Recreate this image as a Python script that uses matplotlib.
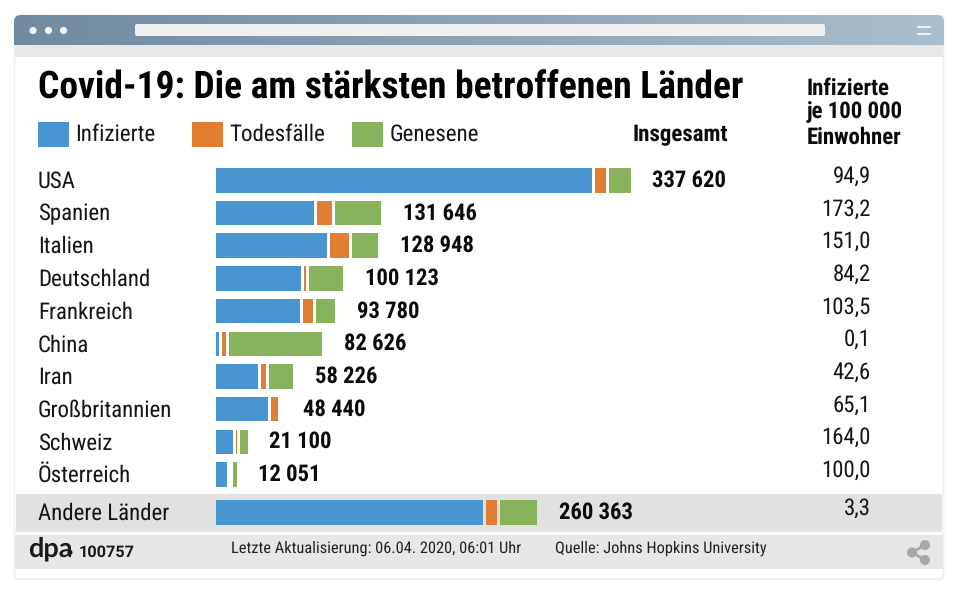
import matplotlib
matplotlib.use('Agg')
import matplotlib.pyplot as plt
import numpy as np
from matplotlib.colors import LinearSegmentedColormap
from matplotlib.patches import Circle, FancyBboxPatch, Rectangle

plt.rcParams['text.hinting'] = 'no_hinting'

countries = ['USA', 'Spanien', 'Italien', 'Deutschland', 'Frankreich', 'China', 'Iran',
             'Großbritannien', 'Schweiz', 'Österreich', 'Andere Länder']
active = [310400, 81000, 92000, 69840, 69400, 2600, 35000, 43280, 13700, 8850, 220700]
deaths = [9640, 12640, 15800, 2000, 8100, 3300, 3800, 5500, 1100, 200, 9100]
recovered = [17580, 38000, 21200, 28300, 16280, 76930, 19740, 0, 6300, 3000, 30560]
totals = ['337 620', '131 646', '128 948', '100 123', '93 780', '82 626', '58 226',
          '48 440', '21 100', '12 051', '260 363']
per_100k = ['94,9', '173,2', '151,0', '84,2', '103,5', '0,1', '42,6', '65,1', '164,0', '100,0', '3,3']

BLUE = '#4895d0'
ORANGE = '#e07f33'
GREEN = '#89b25c'
NARROW = 'Roboto Condensed'
DARK = '#151515'
BLACK = '#0a0a0a'

fig = plt.figure(figsize=(9.6, 5.91), dpi=100)
bg = fig.add_axes([0, 0, 1, 1])
bg.axis('off')

# browser window
bg.add_patch(FancyBboxPatch((14.5, 15.5), 929, 563.5, boxstyle='round,pad=0,rounding_size=3',
                            fc='white', ec='#efefef', lw=1.2, zorder=1))
title_clip = FancyBboxPatch((14, 15), 930, 40, boxstyle='round,pad=0,rounding_size=7',
                            fc='none', ec='none')
bg.add_patch(title_clip)
cmap = LinearSegmentedColormap.from_list('titlebar', ['#718aa0', '#abbecd'])
grad = bg.imshow(np.linspace(0, 1, 256).reshape(1, -1), extent=(14, 944, 45, 15), aspect='auto',
                 cmap=cmap, zorder=2)
grad.set_clip_path(title_clip)
bg.set_xlim(0, 960)
bg.set_ylim(591, 0)
bg.add_patch(Rectangle((15, 45), 928, 12, fc='#e8e8e8', ec='none', zorder=2))
bg.add_patch(FancyBboxPatch((135, 24), 690, 12, boxstyle='round,pad=0,rounding_size=2',
                            fc='#f0f0f0', ec='none', zorder=3))
for cx in (33, 48.5, 63.5):
    bg.add_patch(Circle((cx, 30.5), 3.6, fc='#f4f4f4', ec='none', zorder=3))
for ly in (27, 34):
    bg.plot([917, 931], [ly, ly], color='#e8eef2', lw=1.5, solid_capstyle='butt', zorder=3)

# grey rows
bg.add_patch(Rectangle((16, 493.5), 926, 38.5, fc='#e1e1e1', ec='none', zorder=2))
bg.add_patch(Rectangle((15, 535), 928, 33.5, fc='#e7e7e7', ec='none', zorder=2))

# share icon
for p, q in (((925, 545), (912, 552.5)), ((912, 552.5), (925, 560))):
    bg.plot(*zip(p, q), color='#a8a8a8', lw=2, zorder=3)
for c in ((925, 545), (912, 552.5), (925, 560)):
    bg.add_patch(Circle(c, 5, fc='#a8a8a8', ec='none', zorder=3))

# bars
ROW_TOP = 180.3
ROW_STEP = 32.7
PX_PER_CASE = 0.00121
GAP = 3 / PX_PER_CASE
ax = fig.add_axes([216 / 960, 0, 744 / 960, 1])
ax.patch.set_alpha(0)
ax.axis('off')
ax.set_xlim(0, 744 / PX_PER_CASE)
ax.set_ylim((591 - ROW_TOP) / ROW_STEP, -ROW_TOP / ROW_STEP)

y = np.arange(len(countries), dtype=float)
y[-1] = 10.15
h = 24.6 / ROW_STEP
a = np.array(active)
d = np.array(deaths)
r = np.array(recovered)
ax.barh(y, a, height=h, color=BLUE)
ax.barh(y, d, left=a + GAP, height=h, color=ORANGE)
ax.barh(y, r, left=a + d + 2 * GAP, height=h, color=GREEN)

for i, label in enumerate(totals):
    ax.annotate(label, (a[i] + d[i] + r[i] + 2 * GAP, y[i]), xytext=(15.7, 0), textcoords='offset points',
                ha='left', va='center', fontsize=16.3, fontweight='bold', family=NARROW, color=BLACK)


# text
def px_y(row):
    return ROW_TOP + row * ROW_STEP


for i, name in enumerate(countries):
    bg.text(38, px_y(y[i]) + 1.2, name, ha='left', va='center', fontsize=16.5, family=NARROW, color=DARK)
    bg.text(871, px_y(y[i]) - 4, per_100k[i], ha='right', va='center', fontsize=16.4, family=NARROW, color=DARK)

bg.text(38, 88.5, 'Covid-19: Die am stärksten betroffenen Länder', ha='left', va='center',
        fontsize=27, fontweight='bold', family=NARROW, color='black')

for x0, tx, label, col in ((38, 75.5, 'Infizierte', BLUE), (191.5, 229, 'Todesfälle', ORANGE),
                           (352, 389.5, 'Genesene', GREEN)):
    bg.add_patch(Rectangle((x0, 122), 31, 24.5, fc=col, ec='none', zorder=2))
    bg.text(tx, 134, label, ha='left', va='center', fontsize=16.6, family=NARROW, color=DARK)

bg.text(633, 135, 'Insgesamt', ha='left', va='center', fontsize=16.5, fontweight='bold', family=NARROW, color=BLACK)
for ty, line in ((88, 'Infizierte'), (112.5, 'je 100 000'), (137, 'Einwohner')):
    bg.text(807, ty, line, ha='left', va='center', fontsize=16.4, fontweight='bold', family=NARROW, color=BLACK)

bg.text(28, 549, 'dpa', ha='left', va='center', fontsize=19.5, fontweight='bold', family='Lato', color='#1a1a1a')
bg.add_patch(Circle((70, 552.5), 2.5, fc='#1a1a1a', ec='none', zorder=3))
bg.text(79, 552, '100757', ha='left', va='center', fontsize=11.7, fontweight='bold', family='Roboto', color='#1a1a1a')
bg.text(231, 548, 'Letzte Aktualisierung: 06.04. 2020, 06:01 Uhr', ha='left', va='center', fontsize=11.8,
        family=NARROW, color='#222222')
bg.text(555, 548, 'Quelle: Johns Hopkins University', ha='left', va='center', fontsize=11.8,
        family=NARROW, color='#222222')

fig.savefig('out.png', dpi=100)
